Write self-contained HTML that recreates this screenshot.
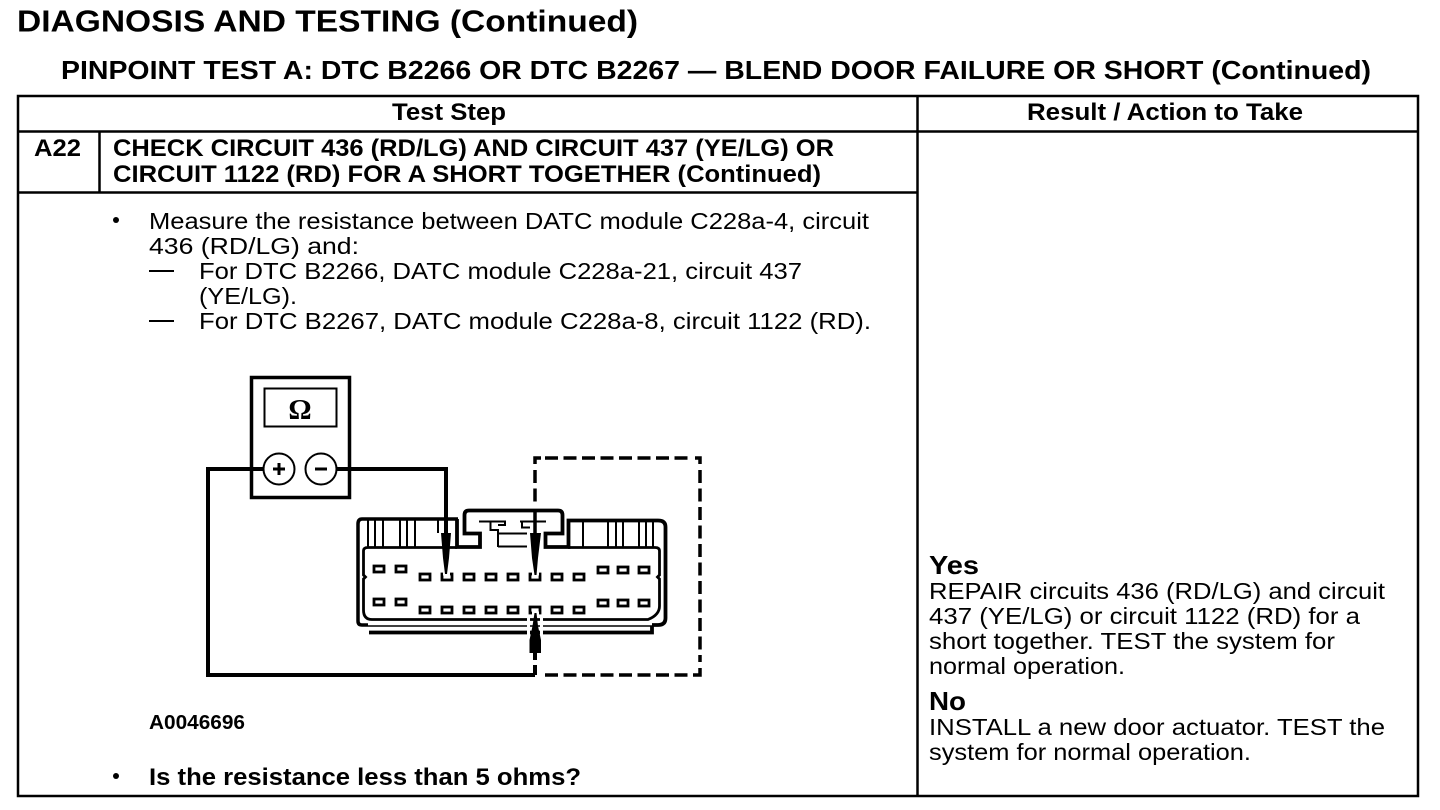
<!DOCTYPE html>
<html><head><meta charset="utf-8"><style>
html,body{margin:0;padding:0;background:#fff}
svg{display:block}
text{font-family:"Liberation Sans",Arial,sans-serif;fill:#000}
.b{font-weight:bold}
.t{font-size:23.5px;-webkit-text-stroke:.25px #000}
.h{font-size:24px;font-weight:bold}
</style></head><body>
<svg width="1440" height="810" viewBox="0 0 1440 810" xmlns="http://www.w3.org/2000/svg">
<rect width="1440" height="810" fill="#fff"/>
<text x="17" y="31.500" class="b" font-size="31" textLength="621" lengthAdjust="spacingAndGlyphs">DIAGNOSIS AND TESTING (Continued)</text>
<text x="61" y="79" class="h" style="font-size:26px" textLength="1310" lengthAdjust="spacingAndGlyphs">PINPOINT TEST A: DTC B2266 OR DTC B2267 — BLEND DOOR FAILURE OR SHORT (Continued)</text>
<g fill="none" stroke="#000" stroke-width="2.5">
<rect x="18" y="96" width="1400" height="700"/>
<path d="M18 131.500H1418M917.500 96V796M18 192.500H917M99.500 131V192"/>
</g>
<text x="392" y="120" class="h" textLength="114" lengthAdjust="spacingAndGlyphs">Test Step</text>
<text x="1027" y="120" class="h" textLength="276" lengthAdjust="spacingAndGlyphs">Result / Action to Take</text>
<text x="34" y="156" class="h" textLength="47" lengthAdjust="spacingAndGlyphs">A22</text>
<text x="113" y="156" class="h" textLength="721" lengthAdjust="spacingAndGlyphs">CHECK CIRCUIT 436 (RD/LG) AND CIRCUIT 437 (YE/LG) OR</text>
<text x="113" y="182" class="h" textLength="708" lengthAdjust="spacingAndGlyphs">CIRCUIT 1122 (RD) FOR A SHORT TOGETHER (Continued)</text>
<circle cx="116" cy="220" r="3"/>
<text x="149" y="229" class="t" textLength="720" lengthAdjust="spacingAndGlyphs">Measure the resistance between DATC module C228a-4, circuit</text>
<text x="149" y="254" class="t" textLength="210" lengthAdjust="spacingAndGlyphs">436 (RD/LG) and:</text>
<rect x="149" y="270" width="25" height="2"/>
<text x="199" y="279" class="t" textLength="603" lengthAdjust="spacingAndGlyphs">For DTC B2266, DATC module C228a-21, circuit 437</text>
<text x="199" y="304" class="t" textLength="98" lengthAdjust="spacingAndGlyphs">(YE/LG).</text>
<rect x="149" y="320" width="25" height="2"/>
<text x="199" y="329" class="t" textLength="672" lengthAdjust="spacingAndGlyphs">For DTC B2267, DATC module C228a-8, circuit 1122 (RD).</text>

<!-- meter -->
<g fill="none" stroke="#000">
<rect x="251.500" y="377.500" width="98" height="120" stroke-width="3.500"/>
<rect x="264.500" y="388.500" width="72" height="38" stroke-width="2"/>
<path d="M263 469H208V675H535M337 469H446V535" stroke-width="4"/>
<circle cx="279" cy="469" r="15.500" fill="#fff" stroke-width="2"/>
<circle cx="321" cy="469" r="15.500" fill="#fff" stroke-width="2"/>
<path d="M273 469H285M279 463V475M315 469H327" stroke-width="3"/>
<!-- dashed box -->
<path d="M535 470V503" stroke-width="3.500" stroke-dasharray="13 5.500"/>
<path d="M535 464V458H541" stroke-width="3.500"/>
<path d="M545 458H690" stroke-width="3.500" stroke-dasharray="13 5.500"/>
<path d="M695 458H700V464" stroke-width="3.500"/>
<path d="M700 470V662" stroke-width="3.500" stroke-dasharray="13 5.500"/>
<path d="M700 668V675H693" stroke-width="3.500"/>
<path d="M545 675H688" stroke-width="3.500" stroke-dasharray="13 5.500"/>
<path d="M535 510V535" stroke-width="3.500"/>
</g>
<text x="300" y="419" text-anchor="middle" font-size="29" class="b" style="font-family:'Liberation Serif',serif">Ω</text>

<!-- connector -->
<g fill="none" stroke="#000">
<path d="M458 519H362Q358 519 358 524V621Q358 625 362 625H368" stroke-width="3.500"/>
<path d="M457 519V547H480V533.500H464.500V515Q464.500 510.500 469 510.500H558Q562.500 510.500 562.500 515V533.500H545.500V547H568.500V520.500H658Q665.500 520.500 665.500 527V618Q665.500 625 658 625H652" stroke-width="3.800"/>
<path d="M457 547.500H368Q363.500 547.500 363.500 551V575L365.500 577L363.500 579V610Q363.500 619.500 372 619.500H648Q659.500 615 659.500 606V579L657.500 577L659.500 575V551Q659.500 547.500 655 547.500H568" stroke-width="2.800"/>
<path d="M369 632.500H652V626" stroke-width="3.800"/>
<path d="M368 626H652" stroke-width="1.500"/>
<path d="M368 520V547M375 520V547M383 520V547M400 520V547M407 520V547M415 520V547M438 520V533" stroke-width="2"/>
<path d="M583 520V547M608 520V547M616 520V547M623 520V547M639 520V547M646 520V547M653 520V547" stroke-width="2"/>
<path d="M479 521.500H505V525H498M490.500 522V530H498V547M498 533.500H527M498 546.500H527M520 521.500H546M522 522V527.500H530" stroke-width="2"/>
<g stroke-width="2.800">
<rect x="374" y="566" width="10" height="6"/><rect x="396" y="566" width="10" height="6"/>
<rect x="420" y="574" width="10" height="6"/><rect x="442" y="574" width="10" height="6"/><rect x="464" y="574" width="10" height="6"/><rect x="486" y="574" width="10" height="6"/><rect x="508" y="574" width="10" height="6"/><rect x="530" y="574" width="10" height="6"/><rect x="552" y="574" width="10" height="6"/><rect x="574" y="574" width="10" height="6"/>
<rect x="598" y="567" width="10" height="6"/><rect x="618" y="567" width="10" height="6"/><rect x="639" y="567" width="10" height="6"/>
<rect x="374" y="599" width="10" height="6"/><rect x="396" y="599" width="10" height="6"/>
<rect x="420" y="607" width="10" height="6"/><rect x="442" y="607" width="10" height="6"/><rect x="464" y="607" width="10" height="6"/><rect x="486" y="607" width="10" height="6"/><rect x="508" y="607" width="10" height="6"/><rect x="530" y="607" width="10" height="6"/><rect x="552" y="607" width="10" height="6"/><rect x="574" y="607" width="10" height="6"/>
<rect x="598" y="600" width="10" height="6"/><rect x="618" y="600" width="10" height="6"/><rect x="639" y="600" width="10" height="6"/>
</g>
</g>
<!-- white gaps around probes -->
<path d="M443 574H450M532 574H539M532 613H539M528.500 617V636M541.500 617V636" stroke="#fff" stroke-width="3"/>
<!-- probes -->
<path d="M441 533H451L449 558L447 574H445L443 558Z"/>
<path d="M530 533H541L538 558L536.500 575H534.500L532 558Z"/>
<path d="M529.500 653H541V640L538 626L536.500 613H534.500L532.500 626L529.500 640Z"/>
<path d="M535 653V660M535 665V675" stroke="#000" stroke-width="4" fill="none"/>

<text x="149" y="729" class="b" font-size="20" textLength="96" lengthAdjust="spacingAndGlyphs">A0046696</text>
<circle cx="116" cy="776" r="3"/>
<text x="149" y="785" class="h" textLength="432" lengthAdjust="spacingAndGlyphs">Is the resistance less than 5 ohms?</text>

<text x="929" y="574" class="b" font-size="26" textLength="50" lengthAdjust="spacingAndGlyphs">Yes</text>
<text x="929" y="599" class="t" textLength="456" lengthAdjust="spacingAndGlyphs">REPAIR circuits 436 (RD/LG) and circuit</text>
<text x="929" y="624" class="t" textLength="431" lengthAdjust="spacingAndGlyphs">437 (YE/LG) or circuit 1122 (RD) for a</text>
<text x="929" y="649" class="t" textLength="406" lengthAdjust="spacingAndGlyphs">short together. TEST the system for</text>
<text x="929" y="674" class="t" textLength="196" lengthAdjust="spacingAndGlyphs">normal operation.</text>
<text x="929" y="710" class="b" font-size="26" textLength="37" lengthAdjust="spacingAndGlyphs">No</text>
<text x="929" y="735" class="t" textLength="456" lengthAdjust="spacingAndGlyphs">INSTALL a new door actuator. TEST the</text>
<text x="929" y="760" class="t" textLength="322" lengthAdjust="spacingAndGlyphs">system for normal operation.</text>
</svg>
</body></html>
